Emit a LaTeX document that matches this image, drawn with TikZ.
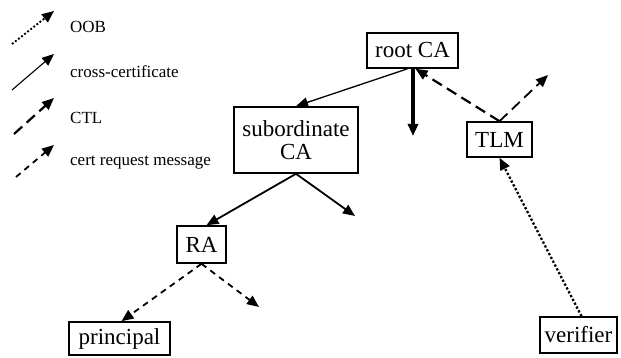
\documentclass[tikz,border=0pt]{standalone}
\usepackage{fontspec}
\setmainfont{Liberation Serif}
\usetikzlibrary{arrows.meta}
\begin{document}
\begin{tikzpicture}[x=1pt,y=-1pt,
  box/.style={draw,line width=1.6pt,inner sep=0pt,font=\fontsize{23}{23}\selectfont},
  tip/.style={-{Triangle[length=12pt,width=10pt]}},
  oob/.style={tip,dotted,line width=2.3pt},
  cross/.style={tip,line width=1.5pt},
  ctl/.style={tip,line width=2.2pt,dash pattern=on 11pt off 6pt},
  req/.style={tip,line width=1.8pt,dash pattern=on 6pt off 5pt},
  legtext/.style={anchor=west,inner sep=0pt,font=\fontsize{17}{17}\selectfont}]
\useasboundingbox (0,0) rectangle (621,358);
% legend
\coordinate (l1a) at (12,44);  \coordinate (l1b) at (54,11);
\coordinate (l2a) at (12,90);  \coordinate (l2b) at (54,54);
\coordinate (l3a) at (14,134); \coordinate (l3b) at (54,98);
\coordinate (l4a) at (16,177); \coordinate (l4b) at (54,145);
\draw[oob,line width=1.9pt] (l1a) -- (l1b);
\draw[cross,line width=1.1pt] (l2a) -- (l2b);
\draw[ctl] (l3a) -- (l3b);
\draw[req] (l4a) -- (l4b);
\node[legtext] (t1) at (70,27) {OOB};
\node[legtext] (t2) at (70,72) {cross-certificate};
\node[legtext] (t3) at (70,118) {CTL};
\node[legtext] (t4) at (70,163) {cert request message};
% nodes
\node[box,minimum width=91pt,minimum height=35pt] (root) at (412.5,50.5) {root CA};
\node[box,minimum width=124pt,minimum height=66pt,align=center] (sub) at (296,140) {subordinate\\CA};
\node[box,minimum width=65pt,minimum height=35pt] (tlm) at (499.5,139.5) {TLM};
\node[box,minimum width=49pt,minimum height=37pt] (ra) at (201.5,244.5) {RA};
\node[box,minimum width=101pt,minimum height=33pt] (principal) at (119.5,338.5) {principal};
\node[box,minimum width=77pt,minimum height=36pt] (verifier) at (578.5,335) {verifier};
% free ends
\coordinate (rootdown) at (413,136);
\coordinate (tlmout) at (548,75);
\coordinate (subout) at (355,216);
\coordinate (raout) at (259,307);
% connectors
\draw[cross,line width=1.3pt] ([xshift=-5pt]root.south) -- (sub.north);
\draw[tip,line width=3.2pt] ([xshift=0.5pt]root.south) -- (rootdown);
\draw[ctl] (tlm.north) -- ([xshift=3pt]root.south);
\draw[ctl,line width=1.8pt] (tlm.north) -- (tlmout);
\draw[cross,line width=1.8pt] (sub.south) -- ([xshift=5pt]ra.north);
\draw[cross,line width=1.8pt] (sub.south) -- (subout);
\draw[req] (ra.south) -- ([xshift=2pt]principal.north);
\draw[req] (ra.south) -- (raout);
\draw[oob] ([xshift=3pt]verifier.north) -- (tlm.south);
\end{tikzpicture}
\end{document}
